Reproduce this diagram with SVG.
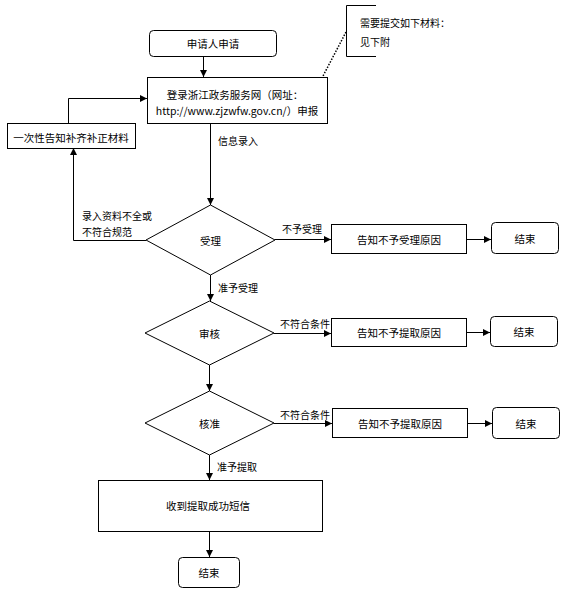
<svg xmlns="http://www.w3.org/2000/svg" width="567" height="597" viewBox="0 0 567 597">
<style>
.n{fill:#fff;stroke:#000;stroke-width:1}
.t{font-family:"Noto Sans CJK SC","Liberation Sans",sans-serif;font-size:10.5px;fill:#000;text-anchor:middle;dominant-baseline:central}
.l{font-family:"Noto Sans CJK SC","Liberation Sans",sans-serif;font-size:10px;fill:#000;dominant-baseline:central}
.c{fill:none;stroke:#000;stroke-width:1}
</style>
<defs>
<marker id="a" markerUnits="userSpaceOnUse" markerWidth="8" markerHeight="8" refX="7" refY="4" orient="auto">
<path d="M0,0.5 L7,4 L0,7.5 z" fill="#000"/>
</marker>
</defs>
<rect width="567" height="597" fill="#fff"/>
<g id="connectors">
<path class="c" d="M203.5,56 V77" marker-end="url(#a)"/>
<path class="c" d="M210.5,123 V205" marker-end="url(#a)"/>
<path class="c" d="M146,240.5 H73.5 V148" marker-end="url(#a)"/>
<path class="c" d="M68.5,123 V98.5 H147" marker-end="url(#a)"/>
<path class="c" d="M275,239.5 H331" marker-end="url(#a)"/>
<path class="c" d="M467,239.5 H491" marker-end="url(#a)"/>
<path class="c" d="M210.5,275 V301" marker-end="url(#a)"/>
<path class="c" d="M274,333.5 H331" marker-end="url(#a)"/>
<path class="c" d="M466,332.5 H490" marker-end="url(#a)"/>
<path class="c" d="M209.5,365 V391" marker-end="url(#a)"/>
<path class="c" d="M274,423.5 H332" marker-end="url(#a)"/>
<path class="c" d="M467,423.5 H492" marker-end="url(#a)"/>
<path class="c" d="M209.5,455 V480" marker-end="url(#a)"/>
<path class="c" d="M209.5,531 V557" marker-end="url(#a)"/>
<path d="M346,32 L323,76" fill="none" stroke="#000" stroke-width="1.5" stroke-dasharray="1.5,1.5"/>
<text class="l" x="218" y="140">信息录入</text>
<text class="l" x="82" y="215">录入资料不全或</text>
<text class="l" x="82" y="231">不符合规范</text>
<text class="l" x="282" y="228">不予受理</text>
<text class="l" x="218" y="287">准予受理</text>
<text class="l" x="280" y="323">不符合条件</text>
<text class="l" x="280" y="414">不符合条件</text>
<text class="l" x="217" y="466">准予提取</text>
</g>
<g id="apply">
<rect class="n" x="149.5" y="30.5" width="127" height="26" rx="4"/>
<text class="t" x="213" y="43.5">申请人申请</text>
</g>
<g id="login">
<rect class="n" x="147.5" y="77.5" width="180" height="46"/>
<text class="t" x="235" y="94">登录浙江政务服务网（网址：</text>
<text class="t" x="237" y="110">http://www.zjzwfw.gov.cn/）申报</text>
</g>
<g id="note">
<path d="M376,5.5 H346.5 V56.5 H376" fill="none" stroke="#000" stroke-width="1"/>
<text class="l" x="360" y="22.5">需要提交如下材料：</text>
<text class="l" x="360" y="41.5">见下附</text>
</g>
<g id="notify">
<rect class="n" x="7.5" y="123.5" width="128" height="25"/>
<text class="t" x="71" y="137">一次性告知补齐补正材料</text>
</g>
<g id="accept">
<path class="n" d="M210.5,205 L275,240 L210.5,275 L146,240 z"/>
<text class="t" x="210.5" y="240">受理</text>
</g>
<g id="reason1">
<rect class="n" x="331.5" y="224.5" width="135" height="29"/>
<text class="t" x="399" y="239">告知不予受理原因</text>
</g>
<g id="end1">
<rect class="n" x="491.5" y="222.5" width="67" height="31" rx="4"/>
<text class="t" x="525" y="238">结束</text>
</g>
<g id="review">
<path class="n" d="M209.5,301 L274,333 L209.5,365 L145,333 z"/>
<text class="t" x="209.5" y="333">审核</text>
</g>
<g id="reason2">
<rect class="n" x="331.5" y="318.5" width="135" height="28"/>
<text class="t" x="399" y="332.5">告知不予提取原因</text>
</g>
<g id="end2">
<rect class="n" x="490.5" y="316.5" width="67" height="30" rx="4"/>
<text class="t" x="524" y="331.5">结束</text>
</g>
<g id="approve">
<path class="n" d="M209.5,391 L274,423 L209.5,455 L145,423 z"/>
<text class="t" x="209.5" y="423">核准</text>
</g>
<g id="reason3">
<rect class="n" x="332.5" y="408.5" width="135" height="29"/>
<text class="t" x="400" y="423">告知不予提取原因</text>
</g>
<g id="end3">
<rect class="n" x="492.5" y="407.5" width="67" height="31" rx="4"/>
<text class="t" x="526" y="423">结束</text>
</g>
<g id="success">
<rect class="n" x="98.5" y="480.5" width="224" height="51"/>
<text class="t" x="208" y="505">收到提取成功短信</text>
</g>
<g id="end4">
<rect class="n" x="178.5" y="557.5" width="61" height="30" rx="4"/>
<text class="t" x="209" y="572.5">结束</text>
</g>
</svg>
